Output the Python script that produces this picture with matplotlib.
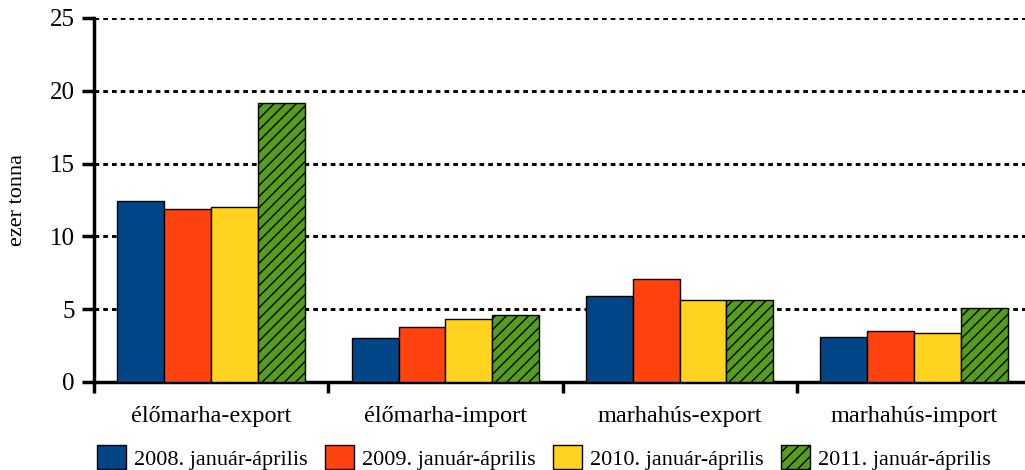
import numpy as np
import matplotlib.pyplot as plt
from matplotlib.patches import Patch

plt.rcParams['font.family'] = ['Liberation Serif', 'DejaVu Serif']
plt.rcParams['hatch.linewidth'] = 1.0

categories = ["élőmarha-export", "élőmarha-import", "marhahús-export", "marhahús-import"]
series = ["2008. január-április", "2009. január-április", "2010. január-április", "2011. január-április"]
v2008 = [12.4, 3.0, 5.9, 3.1]
v2009 = [11.9, 3.8, 7.1, 3.5]
v2010 = [12.0, 4.3, 5.65, 3.35]
v2011 = [19.15, 4.6, 5.6, 5.1]
values = [v2008, v2009, v2010, v2011]
colors = ["#004586", "#ff420e", "#ffd320", "#579d1c"]
hatches = [None, None, None, "///"]

fig = plt.figure(figsize=(10.25, 4.7), dpi=100)
ax = fig.add_axes([94/1025, 88/470, 937/1025, 364/470])

x = np.arange(len(categories))
w = 0.2
for i in range(4):
    ax.bar(x + (i - 1.5)*w, values[i], w, color=colors[i], edgecolor="black",
           linewidth=1.0, hatch=hatches[i], zorder=3)

ax.set_xlim(-0.5, 3.5)
ax.set_ylim(0, 25)
ax.set_yticks([0, 5, 10, 15, 20, 25])
ax.set_xticks(x)
ax.set_xticklabels(categories, fontsize=17.5)
ax.set_xticks([-0.5, 0.5, 1.5, 2.5], minor=True)
ax.tick_params(axis="x", which="major", length=0, pad=17)
ax.tick_params(axis="x", which="minor", length=8, width=2.5)
ax.tick_params(axis="y", length=9, width=2.5, pad=5, labelsize=18)
# dotted grid like the original
ax.yaxis.grid(True, linestyle=(0, (1.6, 1.4)), color="black", linewidth=2.1, zorder=0)
ax.set_axisbelow(True)

for s in ["top", "right"]:
    ax.spines[s].set_visible(False)
ax.spines["left"].set_linewidth(2.5)
ax.spines["bottom"].set_linewidth(2.5)

ax.set_ylabel("ezer tonna", fontsize=16, labelpad=16)

handles = [Patch(facecolor=colors[i], edgecolor="black", hatch=hatches[i]) for i in range(4)]
fig.legend(handles, series, loc="lower left", bbox_to_anchor=(77/1025, -0.042), ncol=4,
           frameon=False, fontsize=16, handlelength=1.3, handleheight=1.3,
           handletextpad=0.35, columnspacing=0.8)

fig.savefig("out.png", dpi=100)
